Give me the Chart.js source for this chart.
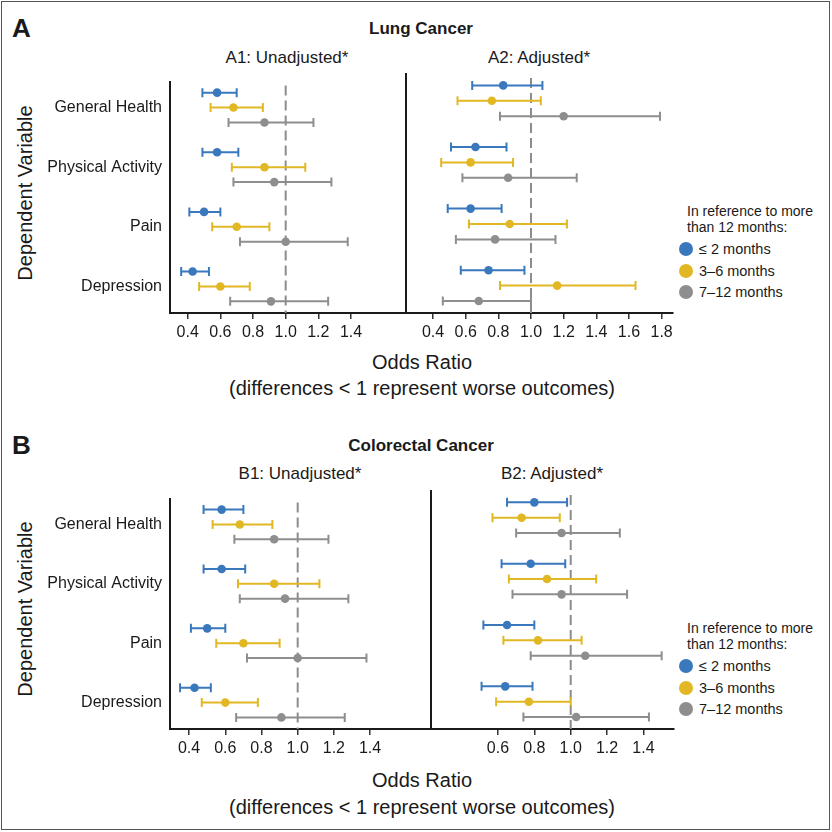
<!DOCTYPE html>
<html><head><meta charset="utf-8">
<script src="https://cdn.jsdelivr.net/npm/chart.js@4.4.0/dist/chart.umd.min.js"></script>
<style>
html,body{margin:0;padding:0;background:#fff;}
#root{position:relative;width:832px;height:832px;overflow:hidden;font-family:"Liberation Sans",Arial,Helvetica,sans-serif;color:#1a1a1a;}
.t{position:absolute;white-space:nowrap;line-height:1;}
canvas{position:absolute;}
#frame{position:absolute;left:1px;top:1px;width:827px;height:827px;border:1.5px solid #555;}
</style></head><body><div id="root"><div id="frame"></div></div>
<script>
// ---------- DATA ----------
const categories = ['General Health', 'Physical Activity', 'Pain', 'Depression'];
const seriesNames = ['\u2264 2 months', '3\u20136 months', '7\u201312 months'];

// Lung cancer, unadjusted (A1): odds ratio, lower CI, upper CI per series
const lungUnadjOR = [[0.58, 0.58, 0.50, 0.43], [0.68, 0.87, 0.70, 0.60], [0.87, 0.93, 1.00, 0.91]];
const lungUnadjLo = [[0.49, 0.49, 0.41, 0.36], [0.54, 0.67, 0.55, 0.47], [0.65, 0.68, 0.72, 0.66]];
const lungUnadjHi = [[0.70, 0.71, 0.60, 0.53], [0.86, 1.12, 0.90, 0.78], [1.17, 1.28, 1.38, 1.26]];

// Lung cancer, adjusted (A2)
const lungAdjOR = [[0.83, 0.66, 0.63, 0.74], [0.76, 0.63, 0.87, 1.16], [1.20, 0.86, 0.78, 0.68]];
const lungAdjLo = [[0.64, 0.51, 0.49, 0.57], [0.55, 0.45, 0.62, 0.81], [0.81, 0.58, 0.54, 0.46]];
const lungAdjHi = [[1.07, 0.85, 0.82, 0.96], [1.06, 0.89, 1.22, 1.64], [1.79, 1.28, 1.15, 1.00]];

// Colorectal cancer, unadjusted (B1)
const crcUnadjOR = [[0.58, 0.58, 0.50, 0.43], [0.68, 0.87, 0.70, 0.60], [0.87, 0.93, 1.00, 0.91]];
const crcUnadjLo = [[0.48, 0.48, 0.41, 0.35], [0.53, 0.67, 0.55, 0.47], [0.65, 0.68, 0.72, 0.66]];
const crcUnadjHi = [[0.70, 0.71, 0.60, 0.52], [0.86, 1.12, 0.90, 0.78], [1.17, 1.28, 1.38, 1.26]];

// Colorectal cancer, adjusted (B2)
const crcAdjOR = [[0.80, 0.78, 0.65, 0.64], [0.73, 0.87, 0.82, 0.77], [0.95, 0.95, 1.08, 1.03]];
const crcAdjLo = [[0.65, 0.62, 0.52, 0.51], [0.57, 0.66, 0.63, 0.59], [0.70, 0.68, 0.78, 0.74]];
const crcAdjHi = [[0.98, 0.97, 0.80, 0.79], [0.94, 1.14, 1.06, 1.00], [1.27, 1.31, 1.50, 1.43]];

// Tick labels
const ticksA1 = [0.4, 0.6, 0.8, 1.0, 1.2, 1.4];
const ticksA2 = [0.4, 0.6, 0.8, 1.0, 1.2, 1.4, 1.6, 1.8];
const ticksB1 = [0.4, 0.6, 0.8, 1.0, 1.2, 1.4];
const ticksB2 = [0.6, 0.8, 1.0, 1.2, 1.4];

const legendHeader = ['In reference to more', 'than 12 months:'];
// ---------- STYLE ----------
const FONT = '"Liberation Sans", Arial, Helvetica, sans-serif';
const seriesColors = ['#3a78be', '#e1b824', '#8e8e8e'];
const rowOffsets = [-0.25, 0, 0.25];
const INK = '#1a1a1a';

Chart.defaults.font.family = FONT;
Chart.defaults.color = INK;

const root = document.getElementById('root');
function text(str, x, y, opts = {}) {
  const d = document.createElement('div');
  d.className = 't';
  d.textContent = str;
  d.style.fontSize = (opts.size || 16) + 'px';
  if (opts.bold) d.style.fontWeight = 'bold';
  const align = opts.align || 'center';
  let tx = align === 'center' ? '-50%' : (align === 'right' ? '-100%' : '0');
  d.style.left = x + 'px';
  d.style.top = y + 'px';
  d.style.transform = `translate(${tx},-50%)` + (opts.rotate ? ` rotate(${opts.rotate}deg)` : '');
  if (opts.rotate) { d.style.transformOrigin = '0 0'; d.style.transform = `rotate(${opts.rotate}deg) translate(-50%,-50%)`; }
  root.appendChild(d);
  return d;
}

const errorBarPlugin = {
  id: 'errbars',
  beforeDatasetsDraw(chart) {
    const ctx = chart.ctx, xs = chart.scales.x, ys = chart.scales.y, area = chart.chartArea;
    ctx.save();
    ctx.strokeStyle = '#8c8c8c';
    ctx.lineWidth = 2;
    ctx.setLineDash([10, 5]);
    const x1 = xs.getPixelForValue(1);
    ctx.beginPath(); ctx.moveTo(x1, area.top + 4); ctx.lineTo(x1, area.bottom); ctx.stroke();
    ctx.setLineDash([]);
    chart.data.datasets.forEach(ds => {
      ctx.strokeStyle = ds.borderColor;
      ctx.lineWidth = 2;
      ds.data.forEach(p => {
        const y = ys.getPixelForValue(p.y);
        const a = xs.getPixelForValue(p.lo), b = xs.getPixelForValue(p.hi);
        ctx.beginPath();
        ctx.moveTo(a, y); ctx.lineTo(b, y);
        ctx.moveTo(a, y - 4.5); ctx.lineTo(a, y + 4.5);
        ctx.moveTo(b, y - 4.5); ctx.lineTo(b, y + 4.5);
        ctx.stroke();
      });
    });
    ctx.restore();
  }
};

function makeChart(cfg) {
  const c = document.createElement('canvas');
  c.width = cfg.w; c.height = cfg.h;
  c.style.left = cfg.left + 'px'; c.style.top = cfg.top + 'px';
  c.style.width = cfg.w + 'px'; c.style.height = cfg.h + 'px';
  root.appendChild(c);
  const datasets = seriesNames.map((name, s) => ({
    label: name,
    data: categories.map((cat, i) => ({ x: cfg.or[s][i], y: i + rowOffsets[s], lo: cfg.lo[s][i], hi: cfg.hi[s][i] })),
    backgroundColor: seriesColors[s],
    borderColor: seriesColors[s],
    pointRadius: 4.3,
    borderWidth: 0,
    showLine: false
  }));
  return new Chart(c, {
    type: 'scatter',
    data: { datasets },
    plugins: [errorBarPlugin],
    options: {
      responsive: false, animation: false, devicePixelRatio: 1,
      layout: { padding: { top: cfg.padTop, right: cfg.padRight, left: 0, bottom: 0 } },
      plugins: { legend: { display: false }, tooltip: { enabled: false } },
      scales: {
        x: {
          type: 'linear', min: cfg.xmin, max: cfg.xmax,
          afterBuildTicks: s => { s.ticks = cfg.ticks.map(v => ({ value: v })); },
          afterFit: s => { s.height = 40; },
          grid: { display: true, drawOnChartArea: false, drawTicks: true, tickLength: 6, color: '#333', lineWidth: 1.5 },
          border: { display: true, color: INK, width: 2 },
          ticks: { font: { size: 16 }, color: INK, padding: 4, maxRotation: 0, autoSkip: false,
                   callback: v => Number(v).toFixed(1) }
        },
        y: {
          type: 'linear', reverse: true, min: -0.435, max: 3.445,
          afterBuildTicks: s => { s.ticks = categories.map((c, i) => ({ value: i })); },
          afterFit: s => { s.width = cfg.yw; },
          grid: { display: false, drawTicks: false },
          border: { display: true, color: INK, width: 2 },
          ticks: { display: cfg.yLabels, font: { size: 16 }, color: INK, padding: 8, autoSkip: false,
                   callback: v => categories[v] }
        }
      }
    }
  });
}

function legend(top) {
  text(legendHeader[0], 687, top, { size: 14, align: 'left' });
  text(legendHeader[1], 687, top + 16, { size: 14, align: 'left' });
  seriesNames.forEach((n, i) => {
    const y = top + 38 + i * 21.5;
    const dot = document.createElement('div');
    dot.style.cssText = `position:absolute;left:679px;top:${y - 7}px;width:14px;height:14px;border-radius:50%;background:${seriesColors[i]}`;
    root.appendChild(dot);
    text(n, 699, y, { size: 14.5, align: 'left' });
  });
}

// ---------- PANEL A ----------
text('A', 12, 28, { size: 26, bold: true, align: 'left' });
text('Lung Cancer', 421, 28, { size: 17, bold: true });
text('A1: Unadjusted*', 287, 57, { size: 17 });
text('A2: Adjusted*', 539, 57, { size: 17 });
text('Dependent Variable', 25, 193, { size: 20, rotate: -90 });
text('Odds Ratio', 422, 362, { size: 20 });
text('(differences < 1 represent worse outcomes)', 422, 388, { size: 20 });
legend(211);

makeChart({ left: 0, top: 64, w: 420, h: 289, padTop: 10, padRight: 14.3, yw: 170, yLabels: true,
  xmin: 0.2915, xmax: 1.735, ticks: ticksA1, or: lungUnadjOR, lo: lungUnadjLo, hi: lungUnadjHi });
makeChart({ left: 400, top: 64, w: 690 - 400, h: 289, padTop: 10, padRight: 17, yw: 5.7, yLabels: false,
  xmin: 0.2327, xmax: 1.8696, ticks: ticksA2, or: lungAdjOR, lo: lungAdjLo, hi: lungAdjHi });

// ---------- PANEL B ----------
text('B', 12, 445, { size: 26, bold: true, align: 'left' });
text('Colorectal Cancer', 421, 445, { size: 17, bold: true });
text('B1: Unadjusted*', 300, 473, { size: 17 });
text('B2: Adjusted*', 552, 473, { size: 17 });
text('Dependent Variable', 25, 609, { size: 20, rotate: -90 });
text('Odds Ratio', 422, 780, { size: 20 });
text('(differences < 1 represent worse outcomes)', 422, 807, { size: 20 });
legend(628);

makeChart({ left: 0, top: 481, w: 440, h: 288, padTop: 10, padRight: 9, yw: 170, yLabels: true,
  xmin: 0.2945, xmax: 1.7365, ticks: ticksB1, or: crcUnadjOR, lo: crcUnadjLo, hi: crcUnadjHi });
makeChart({ left: 420, top: 481, w: 690 - 420, h: 288, padTop: 10, padRight: 16.7, yw: 11, yLabels: false,
  xmin: 0.232, xmax: 1.564, ticks: ticksB2, or: crcAdjOR, lo: crcAdjLo, hi: crcAdjHi });
</script>
</body></html>
